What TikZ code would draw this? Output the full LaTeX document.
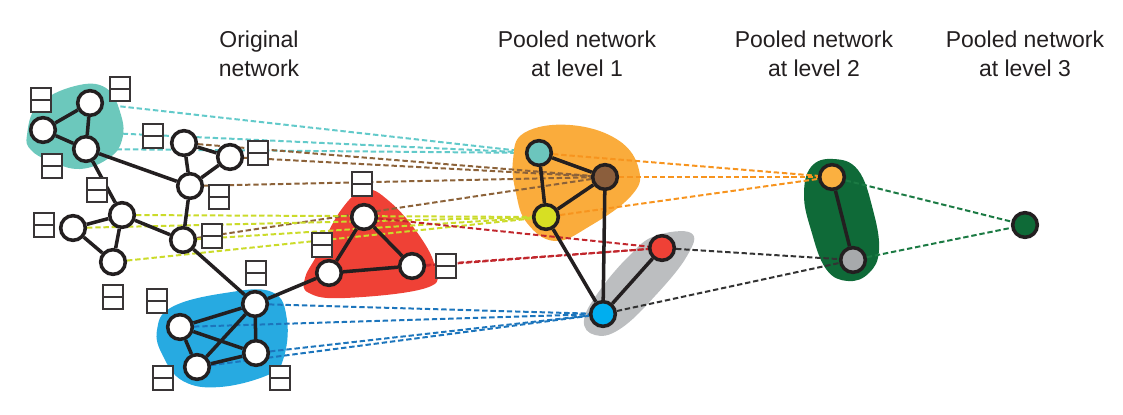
\documentclass[tikz,border=0pt]{standalone}
\usepackage{fontspec}
\setmainfont{Liberation Sans}
\definecolor{tealB}{HTML}{6CC8BC}
\definecolor{tealD}{HTML}{62CACA}
\definecolor{tealN}{HTML}{6CC5BD}
\definecolor{brownN}{HTML}{8B5E3C}
\definecolor{brownD}{HTML}{8C6239}
\definecolor{yellowN}{HTML}{D7DF23}
\definecolor{yellowD}{HTML}{CBDB2A}
\definecolor{redB}{HTML}{EF4136}
\definecolor{redD}{HTML}{C1272D}
\definecolor{blueB}{HTML}{27AAE1}
\definecolor{blueN}{HTML}{00AEEF}
\definecolor{blueD}{HTML}{1C75BC}
\definecolor{orangeB}{HTML}{FAAC3C}
\definecolor{orangeN}{HTML}{FBB040}
\definecolor{orangeD}{HTML}{F7941E}
\definecolor{grayB}{HTML}{BCBEC0}
\definecolor{grayN}{HTML}{A7A9AC}
\definecolor{greenB}{HTML}{0F6A38}
\definecolor{greenN}{HTML}{0E6A37}
\definecolor{greenD}{HTML}{1B7A43}
\definecolor{darkD}{HTML}{333333}
\definecolor{ink}{HTML}{231F20}
\pgfdeclarelayer{tdash}
\pgfdeclarelayer{blob}
\pgfdeclarelayer{dash}
\pgfdeclarelayer{edge}
\pgfsetlayers{tdash,blob,dash,edge,main}
\begin{document}
\begin{tikzpicture}[x=0.03cm,y=-0.03cm,
  nd/.style={circle,draw=ink,line width=3pt,fill=white,minimum size=0.74cm,inner sep=0pt},
  lbl/.style={rectangle,draw=ink!90,line width=1.8pt,fill=white,minimum width=0.62cm,minimum height=0.74cm,inner sep=0pt,
    path picture={\draw[line width=1.8pt,ink!90] (path picture bounding box.west)--(path picture bounding box.east);}},
  ed/.style={line width=3pt,ink},
  dl/.style={dash pattern=on 4.6pt off 2.4pt,line width=1.7pt},
  ttl/.style={font=\fontsize{19.6}{23.9}\selectfont,text=ink,inner sep=0pt}
]
\useasboundingbox (0,0) rectangle (1123,414);

% titles
\node[ttl,anchor=base] (t0a) at (259,47) {Original};
\node[ttl,anchor=base] (t0b) at (259,76) {network};
\node[ttl,anchor=base] (t1a) at (577,47) {Pooled network};
\node[ttl,anchor=base] (t1b) at (577,76) {at level 1};
\node[ttl,anchor=base] (t2a) at (814,47) {Pooled network};
\node[ttl,anchor=base] (t2b) at (814,76) {at level 2};
\node[ttl,anchor=base] (t3a) at (1025,47) {Pooled network};
\node[ttl,anchor=base] (t3b) at (1025,76) {at level 3};

% original network nodes
\node[nd] (A1) at (90,103) {};
\node[nd] (A2) at (43,130) {};
\node[nd] (A3) at (86,149) {};
\node[nd] (B1) at (184,143) {};
\node[nd] (B2) at (230,157) {};
\node[nd] (B3) at (190,186) {};
\node[nd] (C1) at (122,215) {};
\node[nd] (C2) at (73,228) {};
\node[nd] (C3) at (113,262) {};
\node[nd] (C4) at (183,240) {};
\node[nd] (D1) at (255,304) {};
\node[nd] (D2) at (180,327) {};
\node[nd] (D3) at (197,367) {};
\node[nd] (D4) at (256,353) {};
\node[nd] (E1) at (364,217) {};
\node[nd] (E2) at (329,273) {};
\node[nd] (E3) at (412,266) {};

% level 1
\node[nd,fill=tealN] (F1) at (539,153) {};
\node[nd,fill=brownN] (F2) at (605,177) {};
\node[nd,fill=yellowN] (F3) at (546,217) {};
\node[nd,fill=redB] (F4) at (662,248) {};
\node[nd,fill=blueN] (F5) at (603,314) {};
% level 2
\node[nd,fill=orangeN] (G1) at (832,177) {};
\node[nd,fill=grayN] (G2) at (853,260) {};
% level 3
\node[nd,fill=greenN] (H) at (1025,225) {};

% label boxes
\foreach \n/\p in {l1/{(41,100)},l2/{(120,89)},l3/{(52,166)},l4/{(97,190)},l5/{(153,136)},
  l6/{(258,153)},l7/{(219,197)},l8/{(44,225)},l9/{(212,236)},l10/{(113,297)},l11/{(256,273)},
  l12/{(157,301)},l13/{(163,378)},l14/{(280,378)},l15/{(362,184)},l16/{(322,245)},l17/{(446,266)}}
  \node[lbl] (\n) at \p {};

% blobs
\begin{pgfonlayer}{blob}
\fill[tealB] plot[smooth cycle,tension=0.7] coordinates {(27,135) (38,105) (75,86) (106,88) (121,115) (122,140) (109,158) (80,169) (50,161) (31,150)};
\fill[blueB] plot[smooth cycle,tension=0.7] coordinates {(157,330) (172,307) (225,293) (272,292) (287,320) (283,360) (268,375) (220,387) (183,381) (163,356)};
\fill[redB] plot[smooth cycle,tension=0.7] coordinates {(365,190) (389,201) (419,235) (435,268) (426,288) (345,298) (309,293) (305,278) (317,255) (341,210)};
\fill[orangeB] plot[smooth cycle,tension=0.7] coordinates {(513,160) (524,133) (570,125) (618,140) (639,170) (631,196) (590,226) (555,241) (527,223) (516,193)};
\fill[grayB] plot[smooth cycle,tension=0.7] coordinates {(584,320) (600,290) (630,255) (655,236) (691,233) (687,256) (655,296) (620,329) (595,335)};
\fill[greenB] plot[smooth cycle,tension=0.7] coordinates {(833,159) (858,170) (873,210) (879,250) (869,273) (848,281) (826,269) (811,230) (804,195) (811,167)};
\end{pgfonlayer}

% dashed links
\begin{pgfonlayer}{tdash}
\foreach \s in {A1,A2,A3} \draw[dl,tealD] (\s) -- (F1);
\end{pgfonlayer}
\begin{pgfonlayer}{dash}
\foreach \s in {B1,B2,B3,C4} \draw[dl,brownD] (\s) -- (F2);
\foreach \s in {C1,C2,C3,C4} \draw[dl,yellowD] (\s) -- (F3);
\foreach \s in {E1,E2,E3} \draw[dl,redD] (\s) -- (F4);
\foreach \s in {D1,D2,D3,D4} \draw[dl,blueD] (\s) -- (F5);
\foreach \s in {F1,F2,F3} \draw[dl,orangeD] (\s) -- (G1);
\foreach \s in {F4,F5} \draw[dl,darkD] (\s) -- (G2);
\foreach \s in {G1,G2} \draw[dl,greenD] (\s) -- (H);
\end{pgfonlayer}

% solid edges
\begin{pgfonlayer}{edge}
\foreach \a/\b in {A1/A2,A1/A3,A2/A3,A3/B3,A3/C1,B1/B2,B1/B3,B2/B3,B3/C4,C1/C2,C1/C3,C2/C3,C1/C4,C4/D1,
  D1/D2,D1/D3,D1/D4,D2/D4,D2/D3,D3/D4,D1/E2,E1/E2,E1/E3,E2/E3,
  F1/F2,F1/F3,F2/F3,F2/F5,F3/F5,F4/F5,G1/G2}
  \draw[ed] (\a) -- (\b);
\end{pgfonlayer}
\end{tikzpicture}
\end{document}
